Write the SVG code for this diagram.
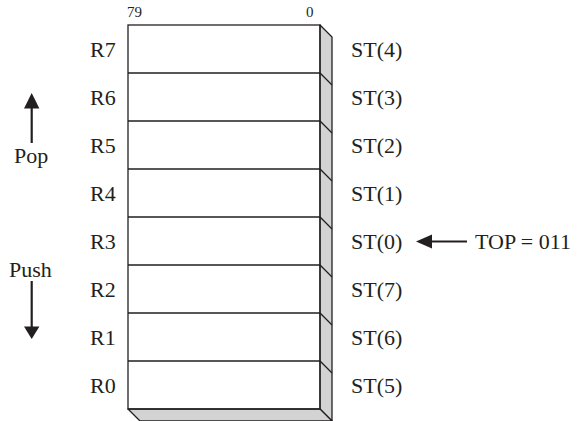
<svg xmlns="http://www.w3.org/2000/svg" width="578" height="421" viewBox="0 0 578 421">
<style>
.t{font-family:"Liberation Serif","Times New Roman",serif;font-size:22px;fill:#231f20}
.s{font-family:"Liberation Serif","Times New Roman",serif;font-size:15px;fill:#231f20}
.ln{stroke:#231f20;stroke-width:1.3;fill:none}
.sh{fill:#d3d3d3;stroke:#231f20;stroke-width:1.3;stroke-linejoin:round}
.ar{stroke:#231f20;stroke-width:2.2;fill:none}
.hd{fill:#231f20}
</style>
<rect width="578" height="421" fill="#fff"/>
<g id="bits">
<text class="s" x="127" y="16.7">79</text>
<text class="s" x="306" y="16.7">0</text>
</g>
<g id="stack">
<polygon class="sh" points="320,25 332,37 332,421 320,409"/>
<polygon class="sh" points="128,409 320,409 332,421 140,421"/>
<rect x="128" y="25" width="192" height="384" fill="#fff" class="ln"/>
<path class="ln" d="M128,73H320l12,12M128,121H320l12,12M128,169H320l12,12M128,217H320l12,12M128,265H320l12,12M128,313H320l12,12M128,361H320l12,12"/>
</g>
<g id="regs">
<text class="t" x="90" y="56.5">R7</text>
<text class="t" x="90" y="104.5">R6</text>
<text class="t" x="90" y="152.5">R5</text>
<text class="t" x="90" y="200.5">R4</text>
<text class="t" x="90" y="248.5">R3</text>
<text class="t" x="90" y="296.5">R2</text>
<text class="t" x="90" y="344.5">R1</text>
<text class="t" x="90" y="392.5">R0</text>
</g>
<g id="st">
<text class="t" x="351" y="56.5">ST(4)</text>
<text class="t" x="351" y="104.5">ST(3)</text>
<text class="t" x="351" y="152.5">ST(2)</text>
<text class="t" x="351" y="200.5">ST(1)</text>
<text class="t" x="351" y="248.5">ST(0)</text>
<text class="t" x="351" y="296.5">ST(7)</text>
<text class="t" x="351" y="344.5">ST(6)</text>
<text class="t" x="351" y="392.5">ST(5)</text>
</g>
<g id="pop">
<text class="t" x="14" y="162.5">Pop</text>
</g>
<g id="push">
<text class="t" x="9" y="276.5">Push</text>
</g>
<g id="top">
<text class="t" x="475" y="248.5">TOP = 011</text>
</g>
<g id="connectors">
<line class="ar" x1="31.7" y1="143" x2="31.7" y2="106"/>
<polygon class="hd" points="31.7,93 24,108.5 39.4,108.5"/>
<line class="ar" x1="31.7" y1="281" x2="31.7" y2="328"/>
<polygon class="hd" points="31.7,339 24,326.5 39.4,326.5"/>
<line class="ar" x1="467" y1="241.5" x2="430" y2="241.5"/>
<polygon class="hd" points="416,241.5 432,234.5 432,248.5"/>
</g>
</svg>
